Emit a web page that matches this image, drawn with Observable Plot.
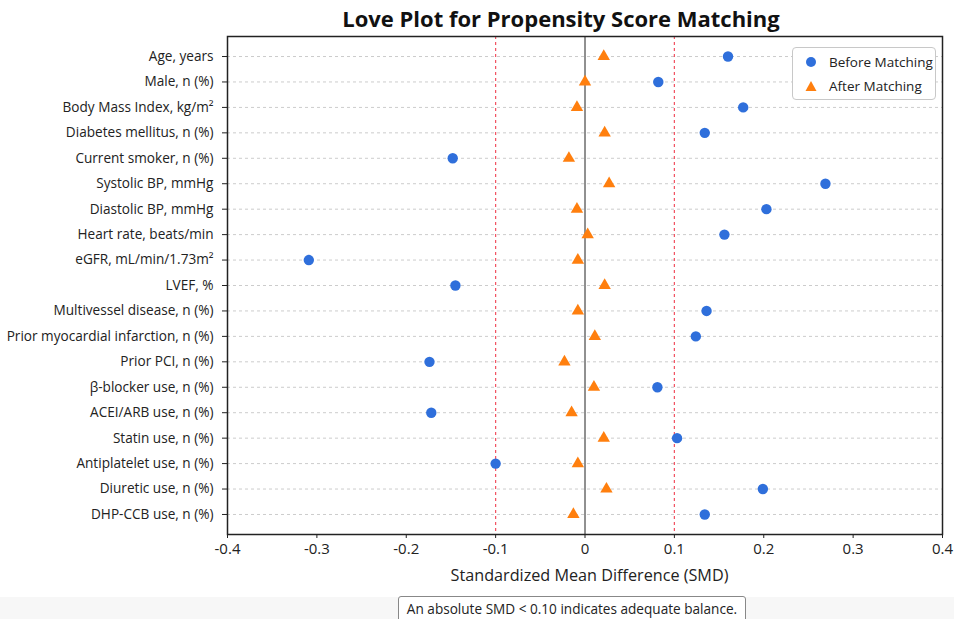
<!DOCTYPE html>
<html>
<head>
<meta charset="utf-8">
<script src="https://cdn.jsdelivr.net/npm/d3@7"></script>
<script src="https://cdn.jsdelivr.net/npm/@observablehq/plot@0.6"></script>
<style>
  html, body { margin: 0; padding: 0; background: #ffffff; }
  #wrap { position: relative; width: 954px; height: 619px; overflow: hidden; font-family: "Open Sans", sans-serif; color: #222; }
  #title { position: absolute; top: 3px; left: 0; width: 1122px; text-align: center; font-size: 22px; font-weight: 700; color: #111; }
  #chart { position: absolute; top: 0; left: 0; }
  #xlabel { position: absolute; left: 0; width: 1179px; top: 564px; text-align: center; font-size: 16.2px; color: #222; }
  #legend { position: absolute; left: 792px; top: 47px; width: 142px; height: 51px; border: 1px solid #c8c8c8; border-radius: 4px; background: #fff; font-size: 13.5px; }
  .li { position: absolute; left: 0; height: 20px; display: flex; align-items: center; }
  .li svg { margin-left: 12px; margin-right: 12px; }
  #caption { position: absolute; left: 398px; top: 596px; width: 346px; height: 28px; border: 1px solid #888; border-radius: 3px; background: #fff; font-size: 13.6px; text-align: center; line-height: 24px; white-space: nowrap; }
  #band { position: absolute; left: 0; top: 597px; width: 954px; height: 22px; background: #f7f7f7; }
</style>
</head>
<body>
<div id="wrap">
  <div id="band"></div>
  <div id="chart"></div>
  <div id="title">Love Plot for Propensity Score Matching</div>
  <div id="xlabel">Standardized Mean Difference (SMD)</div>
  <div id="legend"></div>
  <div id="caption">An absolute SMD &lt; 0.10 indicates adequate balance.</div>
</div>
<script>
const covariates = [
  "Age, years",
  "Male, n (%)",
  "Body Mass Index, kg/m²",
  "Diabetes mellitus, n (%)",
  "Current smoker, n (%)",
  "Systolic BP, mmHg",
  "Diastolic BP, mmHg",
  "Heart rate, beats/min",
  "eGFR, mL/min/1.73m²",
  "LVEF, %",
  "Multivessel disease, n (%)",
  "Prior myocardial infarction, n (%)",
  "Prior PCI, n (%)",
  "β-blocker use, n (%)",
  "ACEI/ARB use, n (%)",
  "Statin use, n (%)",
  "Antiplatelet use, n (%)",
  "Diuretic use, n (%)",
  "DHP-CCB use, n (%)"
];
const smdBefore = [0.160, 0.082, 0.177, 0.134, -0.148, 0.269, 0.203, 0.156, -0.309, -0.145, 0.136, 0.124, -0.174, 0.081, -0.172, 0.103, -0.100, 0.199, 0.134];
const smdAfter = [0.021, 0.000, -0.009, 0.022, -0.018, 0.027, -0.009, 0.003, -0.008, 0.022, -0.008, 0.011, -0.023, 0.010, -0.015, 0.021, -0.008, 0.024, -0.013];
const xTicks = [-0.4, -0.3, -0.2, -0.1, 0, 0.1, 0.2, 0.3, 0.4];
const thresholds = [-0.1, 0.1];
const seriesNames = ["Before Matching", "After Matching"];
const seriesColors = ["#2f6fdb", "#ff7f0e"];

const before = covariates.map((c, i) => ({covariate: c, smd: smdBefore[i]}));
const after = covariates.map((c, i) => ({covariate: c, smd: smdAfter[i]}));

const chart = Plot.plot({
  width: 954,
  height: 590,
  marginLeft: 227,
  marginRight: 12,
  marginTop: 36,
  marginBottom: 56,
  style: {fontFamily: "'Open Sans', sans-serif", color: "#222", background: "transparent"},
  x: {domain: [-0.4, 0.4]},
  y: {type: "point", domain: covariates, padding: 0.787, round: false},
  marks: [
    Plot.ruleY(covariates, {y: d => d, stroke: "#cccccc", strokeWidth: 1, strokeDasharray: "3,3"}),
    Plot.ruleX(thresholds, {x: d => d, stroke: "#ee3344", strokeWidth: 1.2, strokeOpacity: 0.85, strokeDasharray: "3,3"}),
    Plot.ruleX([0], {x: d => d, stroke: "#222", strokeWidth: 1}),
    Plot.dot(before, {x: "smd", y: "covariate", r: 5.2, fill: seriesColors[0], symbol: "circle"}),
    Plot.dot(after, {x: "smd", y: "covariate", r: 4.6, fill: seriesColors[1], symbol: "triangle"}),
    Plot.frame({stroke: "#222", strokeWidth: 1.5}),
    Plot.axisX(xTicks, {
      tickSize: 4, tickPadding: 5, fontSize: 15,
      tickFormat: d => String(+d.toFixed(1)),
      label: null
    }),
    Plot.axisY({tickSize: 5, tickPadding: 9, fontSize: 13.6, label: null})
  ]
});
document.getElementById("chart").appendChild(chart);

// legend
const legend = document.getElementById("legend");
seriesNames.forEach((name, i) => {
  const item = document.createElement("div");
  item.className = "li";
  item.style.top = (i === 0 ? 4 : 28) + "px";
  const sym = i === 0
    ? `<svg width="12" height="12"><circle cx="6" cy="6" r="5" fill="${seriesColors[i]}"/></svg>`
    : `<svg width="12" height="12"><path d="M6,1 L11.5,11 L0.5,11 Z" fill="${seriesColors[i]}"/></svg>`;
  item.innerHTML = sym + `<span>${name}</span>`;
  legend.appendChild(item);
});
</script>
</body>
</html>
